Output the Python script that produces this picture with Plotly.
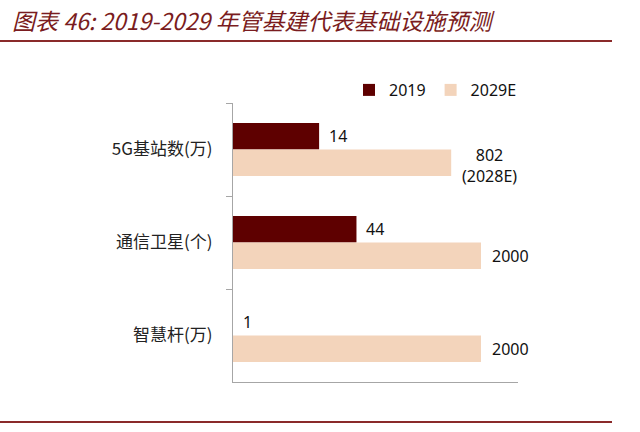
import numpy as np
import plotly.graph_objects as go

categories = ["5G基站数(万)", "通信卫星(个)", "智慧杆(万)"]
series_names = ["2019", "2029E"]
values_2019 = [14, 44, 1]
values_2029 = [802, 2000, 2000]
labels_2019 = ["14", "44", "1"]
labels_2029 = ["802<br>(2028E)", "2000", "2000"]

c_dark = "#5E0000"
c_light = "#F3D4BB"
c_title = "#7A1C20"

W, H = 640, 432
L, R, T, B = 233, 122, 103, 50
pw, ph = W - L - R, H - T - B

fig = go.Figure()
fig.add_bar(y=categories, x=values_2019, name=series_names[0], orientation="h",
            marker=dict(color=c_dark, line=dict(width=0)))
fig.add_bar(y=categories, x=values_2029, name=series_names[1], orientation="h",
            marker=dict(color=c_light, line=dict(width=0)))

bargap = 0.43
bw = (1 - bargap) / 2
lab_font = dict(family="Noto Sans", size=16, color="#111111")
annotations = []
for i, (v, t) in enumerate(zip(values_2019, labels_2019)):
    annotations.append(dict(x=np.log10(v), y=i - bw / 2, xref="x", yref="y", text=t,
                            showarrow=False, xanchor="left", yanchor="middle", xshift=8,
                            font=lab_font))
for i, (v, t) in enumerate(zip(values_2029, labels_2029)):
    annotations.append(dict(x=np.log10(v), y=i + bw / 2, xref="x", yref="y", text=t,
                            showarrow=False, xanchor="left", yanchor="middle", xshift=9,
                            yshift=-3 if "<br>" in t else 0,
                            font=lab_font))

def px2x(px):
    return (px - L) / pw

def px2y(py):
    return (H - B - py) / ph

shapes = [
    dict(type="line", xref="paper", yref="paper", x0=px2x(0), x1=px2x(612),
         y0=px2y(41), y1=px2y(41), line=dict(color="#8A2A2A", width=2)),
    dict(type="line", xref="paper", yref="paper", x0=px2x(0), x1=px2x(612),
         y0=px2y(422), y1=px2y(422), line=dict(color="#8A2A2A", width=2)),
]

fig.update_layout(
    width=W, height=H,
    margin=dict(l=L, r=R, t=T, b=B, autoexpand=False),
    paper_bgcolor="white", plot_bgcolor="white",
    barmode="group", bargap=bargap, bargroupgap=0,
    title=dict(text="图表 46: 2019-2029 年管基建代表基础设施预测",
               xref="container", yref="container", x=12 / W, xanchor="left",
               y=1 - 22 / H, yanchor="middle",
               font=dict(family="Noto Sans CJK SC", size=23, color=c_title, style="italic")),
    legend=dict(orientation="h", x=px2x(349), y=px2y(90), xanchor="left", yanchor="middle",
                font=dict(family="Noto Sans", size=16, color="#111111"),
                itemwidth=30, bgcolor="rgba(0,0,0,0)"),
    xaxis=dict(type="log", range=[0, np.log10(2000) * (W - L - R) / 248], showgrid=False,
               showticklabels=False, ticks="", zeroline=False,
               showline=True, linecolor="#A6A6A6", linewidth=1.2),
    yaxis=dict(autorange="reversed", showgrid=False, showline=True, linecolor="#A6A6A6",
               linewidth=1.2, ticks="outside", tickson="boundaries", ticklen=6,
               tickcolor="#A6A6A6", ticklabelstandoff=16,
               tickfont=dict(family="Noto Sans CJK SC", size=17, color="#222222")),
    annotations=annotations, shapes=shapes,
)

fig.write_html("out.html", config={"displayModeBar": False},
               post_script="document.body.style.margin='0';")
